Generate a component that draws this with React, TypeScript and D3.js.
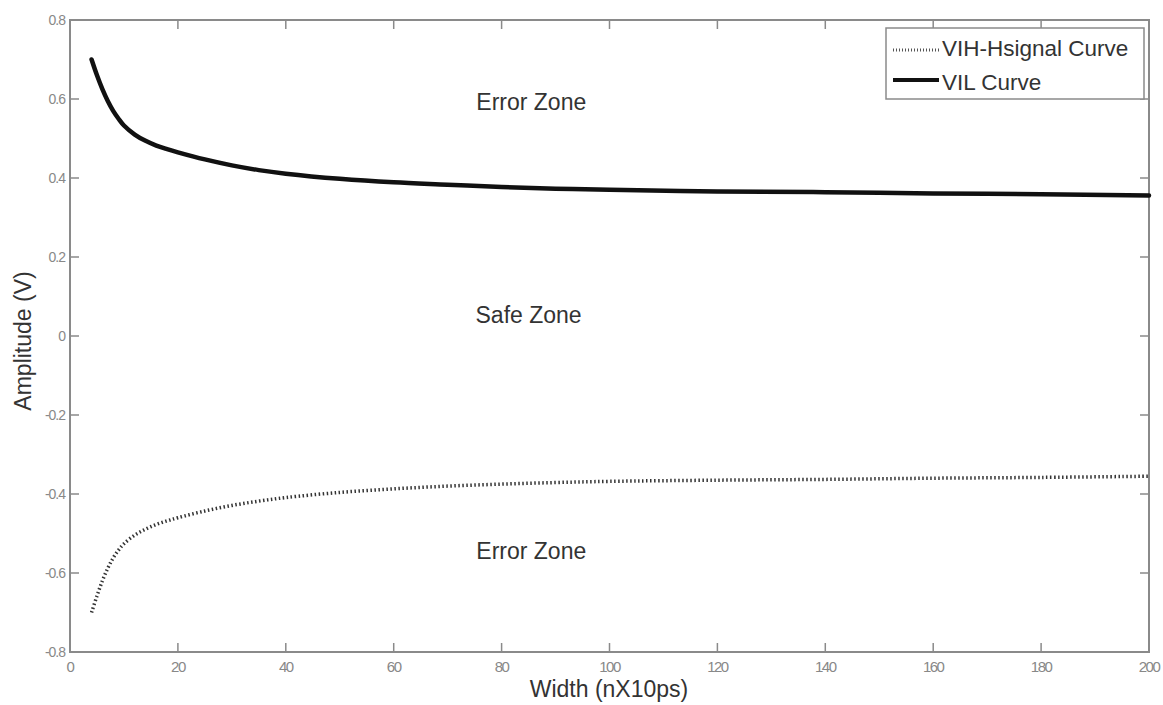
import React from "react";
import * as d3 from "d3";

const widths = [4, 5, 6, 7, 8, 9, 10, 12, 14, 16, 18, 20, 25, 30, 35, 40, 50, 60, 70, 80, 90, 100, 120, 140, 160, 180, 200];
const vilValues = [0.70, 0.66, 0.625, 0.595, 0.57, 0.55, 0.533, 0.51, 0.494, 0.482, 0.473, 0.465, 0.447, 0.432, 0.42, 0.411, 0.398, 0.389, 0.383, 0.377, 0.373, 0.37, 0.366, 0.364, 0.361, 0.359, 0.356];
const vihValues = [-0.70, -0.658, -0.62, -0.588, -0.562, -0.542, -0.526, -0.504, -0.489, -0.477, -0.468, -0.46, -0.443, -0.429, -0.418, -0.409, -0.396, -0.387, -0.38, -0.375, -0.371, -0.368, -0.365, -0.363, -0.36, -0.358, -0.355];
const xTicks = [0, 20, 40, 60, 80, 100, 120, 140, 160, 180, 200];
const yTicks = [0.8, 0.6, 0.4, 0.2, 0, -0.2, -0.4, -0.6, -0.8];
const zoneLabels = [
  { text: "Error Zone", x: 85.5, y: 0.572 },
  { text: "Safe Zone", x: 85, y: 0.033 },
  { text: "Error Zone", x: 85.5, y: -0.565 },
];
const legendItems = [
  { label: "VIH-Hsignal Curve", dotted: true },
  { label: "VIL Curve", dotted: false },
];

export default function App() {
  const W = 1163, H = 705;
  const left = 70, right = 1149, top = 20, bottom = 652;
  const x = d3.scaleLinear().domain([0, 200]).range([left, right]);
  const y = d3.scaleLinear().domain([-0.8, 0.8]).range([bottom, top]);
  const line = d3
    .line<number>()
    .x((_, i) => x(widths[i]))
    .y((d) => y(d))
    .curve(d3.curveCatmullRom.alpha(0.5));
  const axisColor = "#8a8a8a";
  const labelColor = "#888";
  const font = "Arial, 'Liberation Sans', sans-serif";
  const tickLen = 9;
  return (
    <svg width={W} height={H} style={{ position: "absolute", left: 0, top: 0, background: "#fff" }} fontFamily={font}>
      <rect x={0} y={0} width={W} height={H} fill="#fff" />
      {xTicks.map((t) => (
        <g key={"x" + t}>
          <line x1={x(t)} x2={x(t)} y1={bottom} y2={bottom - tickLen} stroke={axisColor} strokeWidth={1.5} />
          <line x1={x(t)} x2={x(t)} y1={top} y2={top + tickLen} stroke={axisColor} strokeWidth={1.5} />
          <text x={x(t)} y={bottom + 20} textAnchor="middle" fontSize={15} fill={labelColor} letterSpacing={-1.5}>
            {t}
          </text>
        </g>
      ))}
      {yTicks.map((t) => (
        <g key={"y" + t}>
          <line x1={left} x2={left + tickLen} y1={y(t)} y2={y(t)} stroke={axisColor} strokeWidth={1.5} />
          <line x1={right} x2={right - tickLen} y1={y(t)} y2={y(t)} stroke={axisColor} strokeWidth={1.5} />
          <text x={left - 5} y={y(t) + 5} textAnchor="end" fontSize={14} fill={labelColor} letterSpacing={-1}>
            {t === 0 ? "0" : t.toFixed(1)}
          </text>
        </g>
      ))}
      <rect x={left} y={top} width={right - left} height={bottom - top} fill="none" stroke={axisColor} strokeWidth={2} />
      <path d={line(vilValues) || ""} fill="none" stroke="#111" strokeWidth={4.5} strokeLinecap="round" />
      <path d={line(vihValues) || ""} fill="none" stroke="#333" strokeWidth={3.5} strokeDasharray="1.5 2.5" />
      {zoneLabels.map((z, i) => (
        <text key={i} x={x(z.x)} y={y(z.y)} textAnchor="middle" fontSize={23} fill="#333">
          {z.text}
        </text>
      ))}
      <g>
        <rect x={886} y={28} width={258} height={71} fill="#fff" stroke={axisColor} strokeWidth={1.5} />
        {legendItems.map((it, i) => (
          <g key={it.label}>
            <line
              x1={893}
              x2={939}
              y1={50 + i * 30}
              y2={50 + i * 30}
              stroke={it.dotted ? "#555" : "#111"}
              strokeWidth={it.dotted ? 3 : 4}
              strokeDasharray={it.dotted ? "1 2" : undefined}
            />
            <text x={942} y={56 + i * 34} fontSize={22.5} fill="#333">
              {it.label}
            </text>
          </g>
        ))}
      </g>
      <text x={609} y={697} textAnchor="middle" fontSize={23} fill="#333">
        Width (nX10ps)
      </text>
      <text transform={`translate(31, ${341}) rotate(-90)`} textAnchor="middle" fontSize={23} fill="#333">
        Amplitude (V)
      </text>
    </svg>
  );
}
